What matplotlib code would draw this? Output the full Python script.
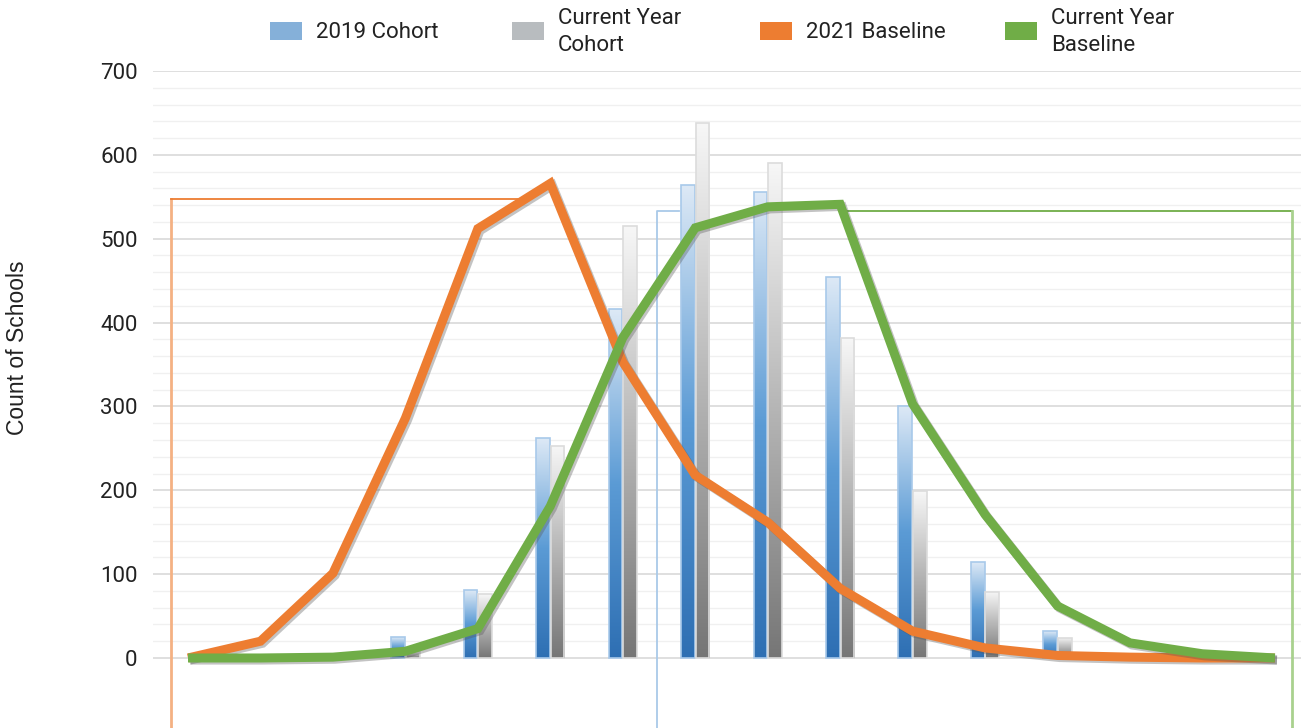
import numpy as np
import matplotlib
matplotlib.use("Agg")
import matplotlib.pyplot as plt
from matplotlib.colors import LinearSegmentedColormap
from matplotlib.patches import Rectangle
import matplotlib.patheffects as pe

# data
categories = list(range(16))
cohort_2019 = [0, 0, 0, 25, 81, 262, 416, 564, 556, 454, 300, 114, 32, 0, 0, 0]
cohort_current = [0, 0, 0, 8, 76, 253, 515, 638, 590, 382, 199, 79, 24, 0, 0, 0]
baseline_2021 = [0, 20, 101, 286, 512, 566, 353, 218, 162, 83, 32, 12, 3, 1, 0, 0]
baseline_current = [0, 0, 1, 8, 35, 181, 382, 513, 538, 541, 303, 171, 62, 18, 5, 0]

# thin bracket outlines (x in category units, y in counts)
orange_box_x = [-0.235, -0.235, 4.55]
orange_box_y = [-90, 547, 547]
blue_box_x = [6.47, 6.47, 6.78]
blue_box_y = [-90, 533, 533]
green_box_x = [9.0, 15.24, 15.24]
green_box_y = [533, 533, -90]

legend_labels = ["2019 Cohort", "Current Year\nCohort", "2021 Baseline", "Current Year\nBaseline"]
legend_colors = ['#85b0d9', '#b8bcbf', '#ed7d31', '#70ad47']

plt.rcParams['font.family'] = ['Roboto', 'DejaVu Sans']

W, H = 1301, 728
fig = plt.figure(figsize=(W / 100, H / 100), dpi=100)
ax = fig.add_axes([153 / W, 0, 1 - 153 / W, (H - 71) / H])

ymin, ymax = -83.5, 700
xmin, xmax = -0.483, 15.36

# grid lines, only from 0 up
for v in range(0, 701, 20):
    if v % 100 == 0:
        ax.axhline(v, color='#d9d9d9', lw=1.2, zorder=0)
    else:
        ax.axhline(v, color='#f0f0f0', lw=1.0, zorder=0)

# bracket outlines
ax.plot(orange_box_x[:2], orange_box_y[:2], color='#f4b183', lw=2, zorder=1)
ax.plot(orange_box_x[1:], orange_box_y[1:], color='#ed7d31', lw=1.3, zorder=1)
ax.plot(blue_box_x, blue_box_y, color='#a9c9e8', lw=1.3, zorder=1)
ax.plot(green_box_x[:2], green_box_y[:2], color='#70ad47', lw=1.3, zorder=1)
ax.plot(green_box_x[1:], green_box_y[1:], color='#a9d18e', lw=2, zorder=1)

x = np.array(categories, dtype=float)
w = 0.19
blue_cmap = LinearSegmentedColormap.from_list('b', ['#2e6fb3', '#5b9bd5', '#dde9f6'])
gray_cmap = LinearSegmentedColormap.from_list('g', ['#767676', '#b5b5b5', '#f7f7f7'])
grad = np.linspace(0, 1, 256).reshape(-1, 1)


def gradient_bars(xs, vals, cmap, edge):
    bars = ax.bar(xs, vals, width=w, facecolor='none', edgecolor=edge, lw=1.2, zorder=3)
    for b, v in zip(bars, vals):
        if v <= 0:
            b.set_visible(False)
            continue
        x0 = b.get_x()
        im = ax.imshow(grad, extent=[x0, x0 + b.get_width(), 0, v], origin='lower',
                       aspect='auto', cmap=cmap, zorder=2.5, interpolation='bilinear')
        im.set_clip_path(b)
    return bars


gradient_bars(x - 0.1, cohort_2019, blue_cmap, '#a8c9ea')
gradient_bars(x + 0.1, cohort_current, gray_cmap, '#dcdcdc')

shadow = [pe.SimpleLineShadow(offset=(1.5, -1.5), alpha=0.35, shadow_color='#555555'), pe.Normal()]
ax.plot(x, baseline_2021, color='#ed7d31', lw=6.5, zorder=4, solid_joinstyle='miter',
        solid_capstyle='butt', path_effects=shadow)
ax.plot(x, baseline_current, color='#70ad47', lw=6.5, zorder=5, solid_joinstyle='miter',
        solid_capstyle='butt', path_effects=shadow)

ax.set_xlim(xmin, xmax)
ax.set_ylim(ymin, ymax)
ax.set_yticks(range(0, 701, 100))
ax.set_xticks([])
ax.tick_params(axis='y', length=0, pad=11, labelsize=16, labelcolor='#222222')
for s in ax.spines.values():
    s.set_visible(False)

fig.text(18 / W, 1 - 348 / H, 'Count of Schools', rotation=90, ha='center', va='center',
         fontsize=16.5, family='Liberation Sans', color='#222222')

# legend, laid out by hand in fixed-width slots
legend_x = [270, 512, 760, 1005]
for lx, lab, col in zip(legend_x, legend_labels, legend_colors):
    fig.patches.append(Rectangle((lx / W, 1 - 40 / H), 32 / W, 18 / H,
                                 transform=fig.transFigure, facecolor=col, edgecolor='none'))
    fig.text((lx + 46) / W, 1 - 32 / H, lab, ha='left', va='center', fontsize=16,
             color='#222222', linespacing=1.38)

fig.savefig('out.png', dpi=100)
